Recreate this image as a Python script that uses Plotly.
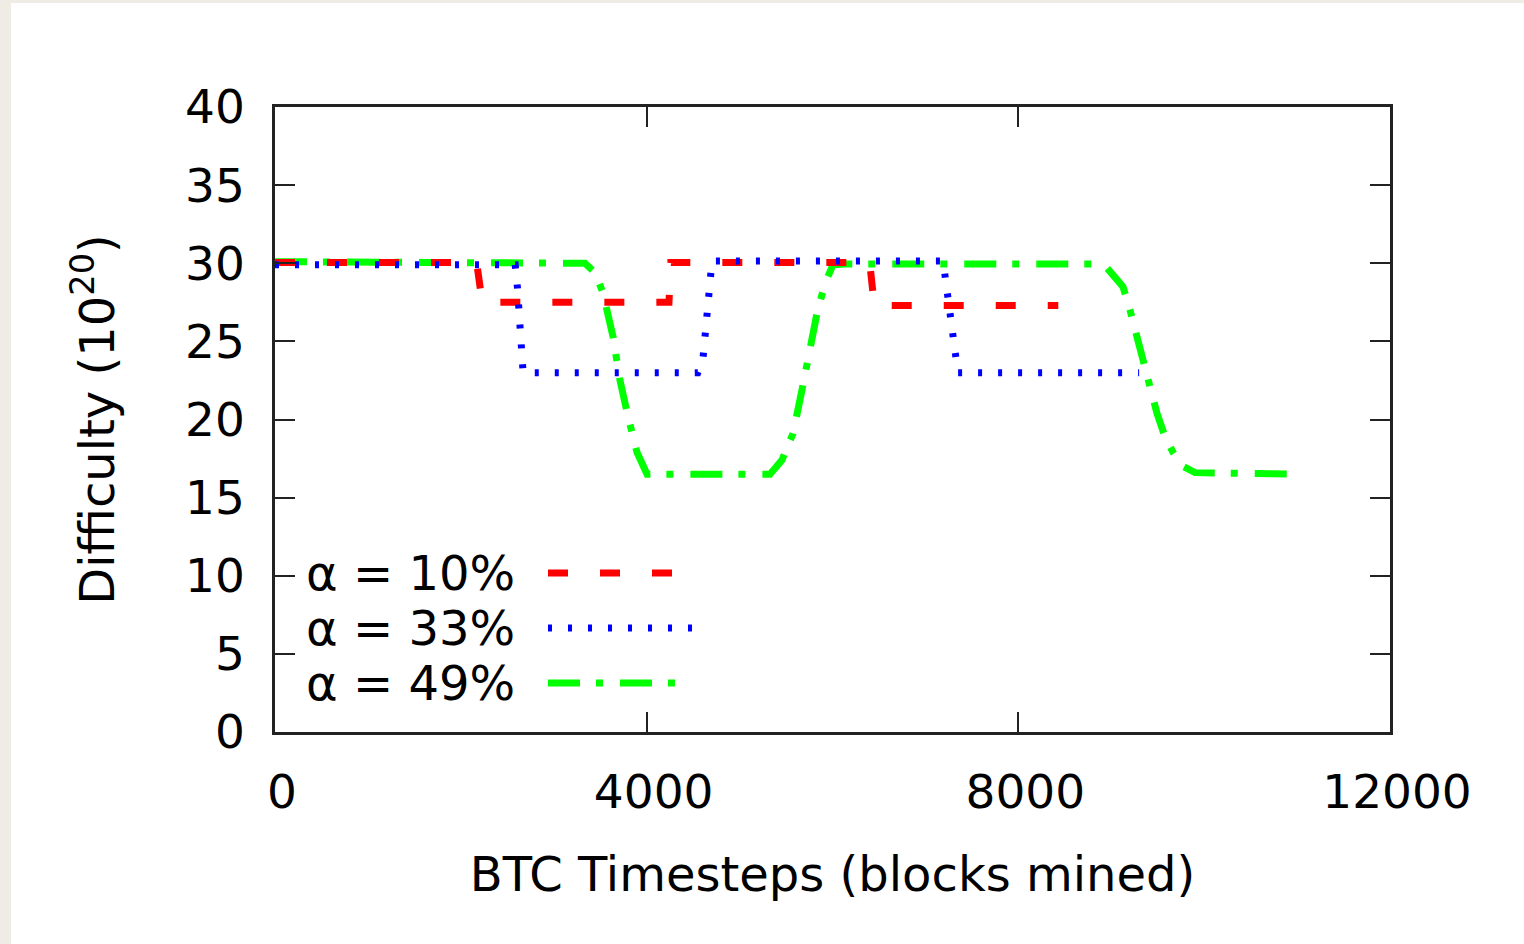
import plotly.graph_objects as go

# ---- data ----
red_x = [0, 2170, 2230, 4240, 4260, 6400, 6450, 8430]
red_y = [30.05, 30.05, 27.5, 27.5, 30.05, 30.05, 27.3, 27.3]

blue_x = [0, 2585, 2610, 2670, 4550, 4606, 4703, 7190, 7350, 9300]
blue_y = [29.9, 29.9, 28.4, 23.0, 23.0, 23.9, 30.15, 30.15, 23.0, 23.0]

green_x = [0, 3336, 3444, 3530, 3638, 3713, 3799, 3896, 4004, 5327, 5456, 5575, 5672,
           5758, 5833, 5919, 6005, 6135, 8847, 8954, 9126, 9202, 9277, 9342, 9417,
           9492, 9578, 9665, 9772, 9901, 10945]
green_y = [30.1, 30.0, 29.4, 28.1, 25.3, 22.5, 20.2, 17.9, 16.5, 16.5, 17.4, 19.1, 21.9,
           24.4, 26.8, 28.7, 29.9, 29.95, 29.95, 29.7, 28.5, 27.0, 25.3, 23.6, 22.1,
           20.4, 18.9, 17.9, 17.0, 16.6, 16.5]

series_names = ["α = 10%", "α = 33%", "α = 49%"]
x_ticks = [0, 4000, 8000, 12000]
y_ticks = [0, 5, 10, 15, 20, 25, 30, 35, 40]

FONT = "DejaVu Sans"
colors = ["#ff0000", "#0000ff", "#00ff00"]
dashes = ["20px,32px", "4px,16px", "32px,16px,7px,17px"]
widths = [7, 7, 7]

fig = go.Figure()
# draw order: green, red, blue (blue on top)
order = [2, 0, 1]
xs = [red_x, blue_x, green_x]
ys = [red_y, blue_y, green_y]
for i in order:
    fig.add_trace(go.Scatter(x=xs[i], y=ys[i], mode="lines", name=series_names[i],
                             line=dict(color=colors[i], width=widths[i], dash=dashes[i]),
                             showlegend=False))

W, H = 1524, 944
L, R, T, B = 275, 134, 107, 212
pw, ph = W - L - R, H - T - B

def px_x(p):
    return (p - L) / pw

def px_y(p):
    return (H - B - p) / ph

shapes = []
# white page area over beige edge
shapes.append(dict(type="rect", xref="paper", yref="paper", layer="below",
                   x0=px_x(11), x1=px_x(W + 5), y0=px_y(H + 5), y1=px_y(3),
                   fillcolor="white", line=dict(width=0)))

annotations = []
leg_rows = [573, 628, 683]
for i, yy in enumerate(leg_rows):
    annotations.append(dict(xref="paper", yref="paper", x=px_x(517), y=px_y(yy),
                            xanchor="right", yanchor="middle", showarrow=False,
                            text=series_names[i], font=dict(family=FONT, size=48, color="black")))
    x_end = 675 if i == 0 else 692
    shapes.append(dict(type="line", xref="paper", yref="paper", layer="above",
                       x0=px_x(548), x1=px_x(x_end), y0=px_y(yy), y1=px_y(yy),
                       line=dict(color=colors[i], width=widths[i], dash=dashes[i])))

axis_common = dict(showgrid=False, zeroline=False, showline=True, linecolor="#222222",
                   linewidth=2.5, mirror="allticks", ticks="inside", ticklen=20,
                   tickwidth=2, tickcolor="#222222",
                   tickfont=dict(family=FONT, size=47, color="black"))

fig.update_layout(
    width=W, height=H,
    margin=dict(l=L, r=R, t=T, b=B, pad=0),
    paper_bgcolor="#eeece5",
    plot_bgcolor="white",
    font=dict(family=FONT, color="black"),
    xaxis=dict(range=[0, 12000], tickvals=x_ticks, ticktext=[str(v) for v in x_ticks],
               ticklabelstandoff=17, ticklabelshift=7,
               title=dict(text="BTC Timesteps (blocks mined)", standoff=40,
                          font=dict(family=FONT, size=48, color="black")),
               **axis_common),
    yaxis=dict(range=[0, 40], tickvals=y_ticks, ticktext=[str(v) for v in y_ticks],
               ticklabelstandoff=18,
               title=dict(text="Difficulty (10<sup>20</sup>)", standoff=56,
                          font=dict(family=FONT, size=48, color="black")),
               **axis_common),
    shapes=shapes,
    annotations=annotations,
)

fig.write_html("out.html", config={"displayModeBar": False},
               post_script="document.body.style.margin='0';document.body.style.overflow='hidden';")
